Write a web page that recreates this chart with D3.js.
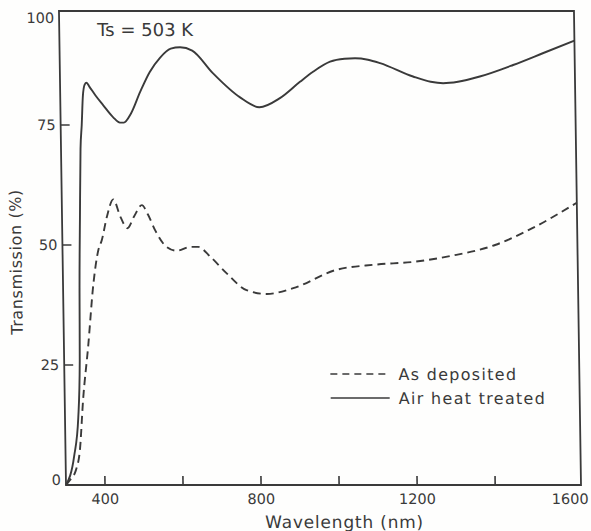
<!DOCTYPE html>
<html><head><meta charset="utf-8">
<script src="https://cdn.jsdelivr.net/npm/d3@7"></script>
<style>body{margin:0;background:#fff}svg{display:block}</style>
</head><body>
<script>
// ---- data ----
const xTickMarks = [400, 600, 800, 1000, 1200, 1400];
const xTickLabels = [400, 800, 1200, 1600];
const yTickMarks = [25, 50, 75];
const yTickLabels = [0, 25, 50, 75, 100];

const airWavelength = [300, 322, 334, 340, 342, 346, 350, 354, 358, 363, 368, 375, 390, 410, 435, 452, 462, 480, 505, 530, 557, 585, 609, 640, 692, 760, 810, 863, 915, 949, 993, 1030, 1057, 1090, 1121, 1205, 1250, 1282, 1320, 1376, 1462, 1540, 1620];
const airValue      = [0,   6,   14,  26,  40,  56,  70,  75,  81,  83.4, 83.8, 83.0, 81.2, 79.1, 76.6, 75.5, 75.5, 77.3, 81.9, 86.0, 89.0, 90.9, 91.2, 90.5, 85.8, 80.8, 78.7, 80.6, 84.0, 86.1, 88.2, 88.8, 88.9, 88.6, 87.9, 85.1, 84.0, 83.7, 84.0, 85.1, 87.5, 90.0, 92.6];

const depWavelength = [300, 310, 326, 337, 347, 362, 378, 392, 401, 415, 432, 450, 467, 485, 505, 520, 538, 567, 593, 627, 648, 678, 720, 770, 822, 890, 1000, 1100, 1200, 1300, 1409, 1500, 1620];
const depValue      = [0,   1.0, 3.1, 7.3, 17.7, 28.8, 42.0, 49.0, 51.0, 55.9, 59.5, 55.8, 53.5, 56.0, 58.3, 56.4, 53.1, 49.6, 48.8, 49.6, 49.6, 47.6, 44.1, 40.6, 39.8, 41.0, 44.8, 45.9, 46.5, 47.8, 50.0, 53.3, 58.8];

const legendLabels = ["As deposited", "Air heat treated"];
const annotation = "Ts = 503 K";

// ---- drawing ----
const W = 591, H = 531;
const ink = "#3a3a3a";
const font = "'DejaVu Sans', sans-serif";

const svg = d3.select("body").append("svg").attr("width", W).attr("height", H)
  .style("background", "#fefefd");

// the scanned figure is slightly sheared: top sits a few px left of the bottom
const g = svg.append("g").attr("transform", "translate(0,485) skewX(0.85) translate(0,-485)");

const x = d3.scaleLinear().domain([300, 1620]).range([66, 581]);
const y = d3.scaleLinear().domain([0, 100]).range([485, 5]);
const frameTop = 11;

// frame
g.append("path")
  .attr("d", `M${x(300)},${frameTop}V${y(0)}H${x(1620)}V${frameTop}Z`)
  .attr("fill", "none").attr("stroke", ink).attr("stroke-width", 1.8);

// x ticks (inward)
g.selectAll(".xt").data(xTickMarks).join("line")
  .attr("x1", d => x(d)).attr("x2", d => x(d))
  .attr("y1", y(0)).attr("y2", y(0) - 9)
  .attr("stroke", ink).attr("stroke-width", 1.6);
g.selectAll(".xl").data(xTickLabels).join("text")
  .attr("x", d => Math.min(x(d), 570)).attr("y", 504)
  .attr("text-anchor", "middle")
  .attr("font-family", font).attr("font-size", 14.5).attr("fill", ink)
  .text(d => d);

// y ticks (inward)
g.selectAll(".yt").data(yTickMarks).join("line")
  .attr("x1", x(300)).attr("x2", x(300) + 9)
  .attr("y1", d => y(d)).attr("y2", d => y(d))
  .attr("stroke", ink).attr("stroke-width", 1.6);
g.selectAll(".yl").data(yTickLabels).join("text")
  .attr("x", x(300) - 5)
  .attr("y", d => Math.min(Math.max(y(d), 18), 480) + 5.5)
  .attr("text-anchor", "end")
  .attr("font-family", font).attr("font-size", 14.5).attr("fill", ink)
  .text(d => d);

// axis titles
g.append("text")
  .attr("x", 344).attr("y", 528).attr("text-anchor", "middle")
  .attr("font-family", font).attr("font-size", 17).attr("fill", ink)
  .attr("letter-spacing", 0.8)
  .text("Wavelength (nm)");
g.append("text")
  .attr("transform", "translate(25,262) rotate(-90)")
  .attr("text-anchor", "middle")
  .attr("font-family", font).attr("font-size", 16).attr("fill", ink)
  .attr("letter-spacing", 0.6)
  .text("Transmission (%)");

// annotation
g.append("text")
  .attr("x", 104).attr("y", 36)
  .attr("font-family", font).attr("font-size", 18).attr("fill", ink)
  .text(annotation);

// curves
const line = d3.line().x(d => x(d[0])).y(d => y(d[1])).curve(d3.curveMonotoneX);
const airData = airWavelength.map((w, i) => [w, airValue[i]]);
const depData = depWavelength.map((w, i) => [w, depValue[i]]);

g.append("path").attr("d", line(depData))
  .attr("fill", "none").attr("stroke", ink).attr("stroke-width", 1.9)
  .attr("stroke-dasharray", "8,5");
g.append("path").attr("d", line(airData))
  .attr("fill", "none").attr("stroke", ink).attr("stroke-width", 1.9);

// legend
const leg = g.append("g");
const legY = [374, 398];
leg.selectAll("line").data(legendLabels).join("line")
  .attr("x1", 332).attr("x2", 391)
  .attr("y1", (d, i) => legY[i]).attr("y2", (d, i) => legY[i])
  .attr("stroke", ink).attr("stroke-width", 1.7)
  .attr("stroke-dasharray", (d, i) => i === 0 ? "7,5" : null);
leg.selectAll("text").data(legendLabels).join("text")
  .attr("x", 400).attr("y", (d, i) => legY[i] + 6)
  .attr("font-family", font).attr("font-size", 16).attr("fill", ink)
  .attr("letter-spacing", 1.3)
  .text(d => d);
</script>
</body></html>
